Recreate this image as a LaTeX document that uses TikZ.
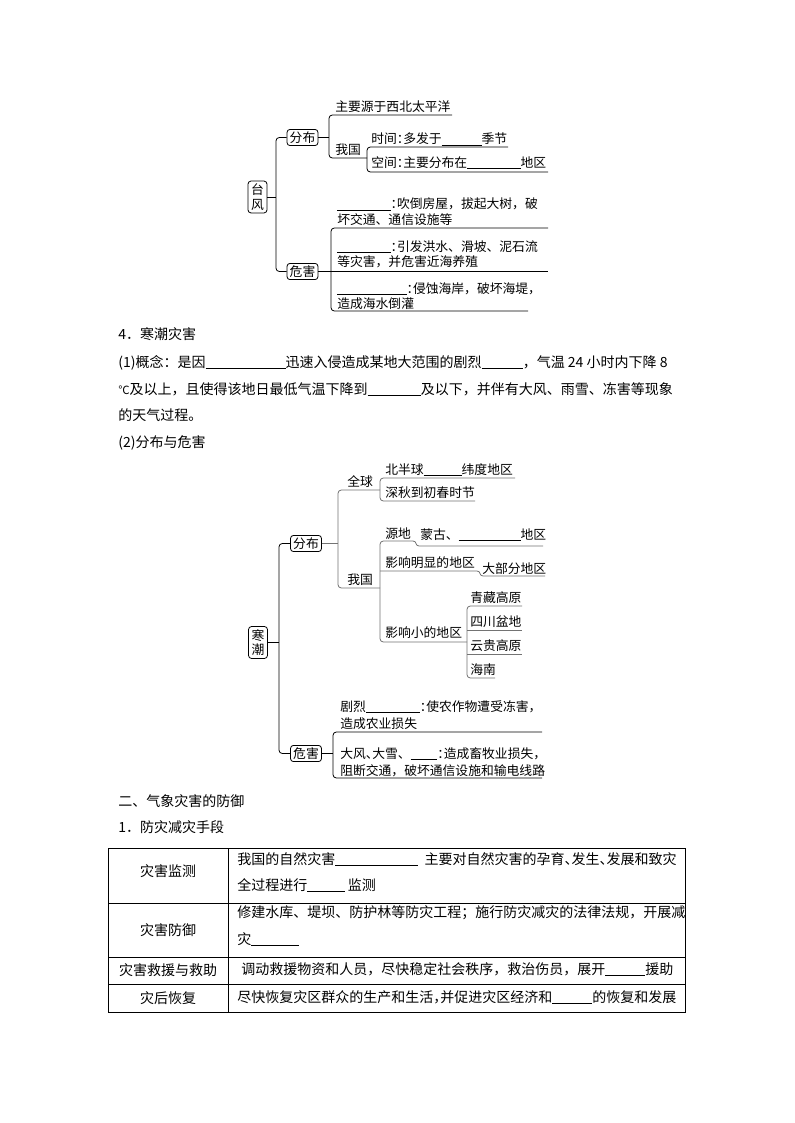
\documentclass[tikz,border=0pt]{standalone}
\usepackage{fontspec}
\setmainfont{Noto Sans CJK SC}
\newcommand\fdiag{\fontsize{9.6pt}{11pt}\selectfont}
\newcommand\fbody{\fontsize{10.5pt}{12pt}\selectfont}
\newcommand\bk[1]{\rule[-1pt]{#1}{0.5pt}}
\newcommand\hwp[1]{\makebox[0.5em][l]{#1}}
\newcommand\smc{{\fontsize{8.5pt}{9pt}\selectfont ℃}}
\tikzset{
  ln/.style={line width=0.6pt, draw=black},
  gl/.style={line width=0.6pt, draw=black!55},
  rc/.style={rounded corners=2.5pt},
  hbox/.style={draw, line width=0.6pt, rounded corners=2.2pt, font=\fdiag, inner xsep=2pt, inner ysep=1.6pt},
  vbox/.style={draw, line width=0.6pt, rounded corners=2.2pt, font=\fdiag, align=center, inner xsep=2.3pt, inner ysep=2pt},
  dt/.style={anchor=base west, inner sep=0pt, font=\fdiag},
  bt/.style={anchor=base west, inner sep=0pt, font=\fbody},
  ct/.style={anchor=center, inner sep=0pt, font=\fbody},
}
\begin{document}
\begin{tikzpicture}[x=0.75pt, y=-0.75pt]
\fill[white] (0,0) rectangle (794,1123);
\useasboundingbox (0,0) rectangle (794,1123);

% ================= Typhoon =================
\node[vbox] (tf) at (257.5,197) {台\\风};
\node[hbox] (tffb) at (302.5,137.5) {分布};
\node[hbox] (tfwh) at (302.5,271.5) {危害};
\coordinate (tfA) at (276,137.5);
\coordinate (tfB) at (276,271.5);
\coordinate (tfC) at (276,197);
\draw[ln, rc] (tffb.west) -- (tfA) -- (tfB) -- (tfwh.west);
\draw[ln] (tf.east) -- (tfC);

\coordinate (b1t) at (329,115);
\coordinate (b1te) at (452,115);
\coordinate (b1b) at (329,158);
\coordinate (b1be) at (367,158);
\coordinate (b1m) at (329,137.5);
\draw[ln, rc] (b1te) -- (b1t) -- (b1b) -- (b1be);
\draw[ln] (tffb.east) -- (b1m);

\coordinate (b2t) at (367,147);
\coordinate (b2te) at (508,147);
\coordinate (b2b) at (367,172);
\coordinate (b2be) at (548,172);
\draw[ln, rc] (b2te) -- (b2t) -- (b2b) -- (b2be);

\coordinate (b3t) at (331,228);
\coordinate (b3te) at (548,228);
\coordinate (b3b) at (331,311);
\coordinate (b3be) at (528,311);
\coordinate (b3me) at (548,271.5);
\draw[ln, rc] (b3te) -- (b3t) -- (b3b) -- (b3be);
\draw[ln] (tfwh.east) -- (b3me);

\node[dt] (ty1) at (335,111.5) {主要源于西北太平洋};
\node[dt] (ty2) at (335,155) {我国};
\node[dt] (ty3) at (371,144) {时间\hwp{：}多发于\bk{30pt}季节};
\node[dt] (ty4) at (371,167.5) {空间\hwp{：}主要分布在\bk{40pt}地区};
\node[dt] (ty5) at (337,209) {\bk{40pt}\hwp{：}吹倒房屋，拔起大树，破};
\node[dt] (ty6) at (337,224.5) {坏交通、通信设施等};
\node[dt] (ty7) at (337,251) {\bk{40pt}\hwp{：}引发洪水、滑坡、泥石流};
\node[dt] (ty8) at (337,267) {等灾害，并危害近海养殖};
\node[dt] (ty9) at (337,293) {\bk{52pt}\hwp{：}侵蚀海岸，破坏海堤，};
\node[dt] (ty10) at (337,308.5) {造成海水倒灌};

% ================= Body text =================
\node[bt] (p1) at (118,339) {4．寒潮灾害};
\node[bt] (p2) at (118,367) {(1)概念：是因\bk{60pt}迅速入侵造成某地大范围的剧烈\bk{31pt}，气温 24 小时内下降 8};
\node[bt] (p3) at (118,394) {\smc 及以上，且使得该地日最低气温下降到\bk{40pt}及以下，并伴有大风、雨雪、冻害等现象};
\node[bt] (p4) at (118,420) {的天气过程。};
\node[bt] (p5) at (118,447) {(2)分布与危害};

% ================= Cold wave =================
\node[vbox] (hc) at (258,642.5) {寒\\潮};
\node[hbox] (hcfb) at (306,543.5) {分布};
\node[hbox] (hcwh) at (306,753.5) {危害};
\coordinate (hcA) at (279,543.5);
\coordinate (hcB) at (279,753.5);
\coordinate (hcC) at (279,642.5);
\draw[ln, rc] (hcfb.west) -- (hcA) -- (hcB) -- (hcwh.west);
\draw[ln] (hc.east) -- (hcC);

\coordinate (c1m) at (338,543.5);
\coordinate (c1t) at (338,490);
\coordinate (c1te) at (380,490);
\coordinate (c1b) at (338,588);
\coordinate (c1be) at (380,588);
\draw[gl] (hcfb.east) -- (c1m);
\draw[gl, rc] (c1te) -- (c1t) -- (c1b) -- (c1be);

\coordinate (c2t) at (380,478);
\coordinate (c2te) at (515,478);
\coordinate (c2b) at (380,501);
\coordinate (c2be) at (475,501);
\draw[gl, rc] (c2te) -- (c2t) -- (c2b) -- (c2be);

\coordinate (c3t) at (380,541);
\coordinate (c3s) at (413,541);
\coordinate (c3s2) at (419,546);
\coordinate (c3se) at (543,546);
\coordinate (c3b) at (380,642);
\coordinate (c3be) at (467,642);
\coordinate (c3m) at (380,571);
\coordinate (c3ms) at (477,571);
\coordinate (c3ms2) at (483,576);
\coordinate (c3mse) at (545,576);
\draw[gl, rc] (c3s) -- (c3t) -- (c3b) -- (c3be);
\draw[gl] (c3s) .. controls +(4,0) and +(-4,0) .. (c3s2) -- (c3se);
\draw[gl] (c3m) -- (c3ms) .. controls +(4,0) and +(-4,0) .. (c3ms2) -- (c3mse);

\coordinate (c4t) at (467,606);
\coordinate (c4te) at (522,606);
\coordinate (c4a) at (467,630);
\coordinate (c4ae) at (522,630);
\coordinate (c4c) at (467,654);
\coordinate (c4ce) at (522,654);
\coordinate (c4b) at (467,678);
\coordinate (c4be) at (495,678);
\draw[gl, rc] (c4te) -- (c4t) -- (c4b) -- (c4be);
\draw[gl] (c4a) -- (c4ae);
\draw[gl] (c4c) -- (c4ce);

\coordinate (c5t) at (333,732);
\coordinate (c5te) at (542,732);
\coordinate (c5b) at (333,778);
\coordinate (c5be) at (542,778);
\coordinate (c5m) at (333,753.5);
\draw[ln, rc] (c5te) -- (c5t) -- (c5b) -- (c5be);
\draw[ln] (hcwh.east) -- (c5m);

\node[dt] (cw1) at (347,486) {全球};
\node[dt] (cw2) at (385,474) {北半球\bk{28.5pt}纬度地区};
\node[dt] (cw3) at (385,497) {深秋到初春时节};
\node[dt] (cw4) at (347,584) {我国};
\node[dt] (cw5) at (385,538) {源地};
\node[dt] (cw6) at (420,539.5) {蒙古、\bk{46.5pt}地区};
\node[dt] (cw7) at (385,567.5) {影响明显的地区};
\node[dt] (cw8) at (482,573.5) {大部分地区};
\node[dt] (cw9) at (385,637.5) {影响小的地区};
\node[dt] (cw10) at (470,602) {青藏高原};
\node[dt] (cw11) at (470,626.5) {四川盆地};
\node[dt] (cw12) at (470,650.5) {云贵高原};
\node[dt] (cw13) at (470,674) {海南};
\node[dt] (cw14) at (340,711) {剧烈\bk{40.5pt}\hwp{：}使农作物遭受冻害，};
\node[dt] (cw15) at (340,728) {造成农业损失};
\node[dt] (cw16) at (340,758) {大风\hwp{、}大雪、\bk{20pt}\hwp{：}造成畜牧业损失，};
\node[dt] (cw17) at (340,775) {阻断交通，破坏通信设施和输电线路};

% ================= Section 2 =================
\node[bt] (s1) at (118,806) {二、气象灾害的防御};
\node[bt] (s2) at (118,832) {1．防灾减灾手段};

% ================= Table =================
\coordinate (tl) at (108,848);
\coordinate (br) at (685,1012);
\coordinate (v1) at (228,848);
\coordinate (v2) at (228,1012);
\coordinate (h1a) at (108,903);
\coordinate (h1b) at (685,903);
\coordinate (h2a) at (108,957);
\coordinate (h2b) at (685,957);
\coordinate (h3a) at (108,984);
\coordinate (h3b) at (685,984);
\draw[line width=0.7pt] (tl) rectangle (br);
\draw[line width=0.7pt] (v1) -- (v2);
\draw[line width=0.7pt] (h1a) -- (h1b);
\draw[line width=0.7pt] (h2a) -- (h2b);
\draw[line width=0.7pt] (h3a) -- (h3b);

\node[ct] (k1) at (168,871) {灾害监测};
\node[ct] (k2) at (168,930) {灾害防御};
\node[ct] (k3) at (168,970) {灾害救援与救助};
\node[ct] (k4) at (168,998) {灾后恢复};

\node[bt] (r1) at (237,864) {我国的自然灾害\bk{62pt}\hspace{5pt}主要对自然灾害的孕育\hwp{、}发生\hwp{、}发展和致灾};
\node[bt] (r2) at (237,890) {全过程进行\bk{28.5pt}\hspace{2pt}监测};
\node[bt] (r3) at (237,917) {修建水库、堤坝、防护林等防灾工程；施行防灾减灾的法律法规，开展减};
\node[bt] (r4) at (237,944) {灾\bk{36pt}};
\node[bt] (r5) at (241,974.5) {调动救援物资和人员，尽快稳定社会秩序，救治伤员，展开\bk{30pt}援助};
\node[bt] (r6) at (237,1002.5) {尽快恢复灾区群众的生产和生活\hwp{，}并促进灾区经济和\bk{30pt}的恢复和发展};
\end{tikzpicture}
\end{document}
